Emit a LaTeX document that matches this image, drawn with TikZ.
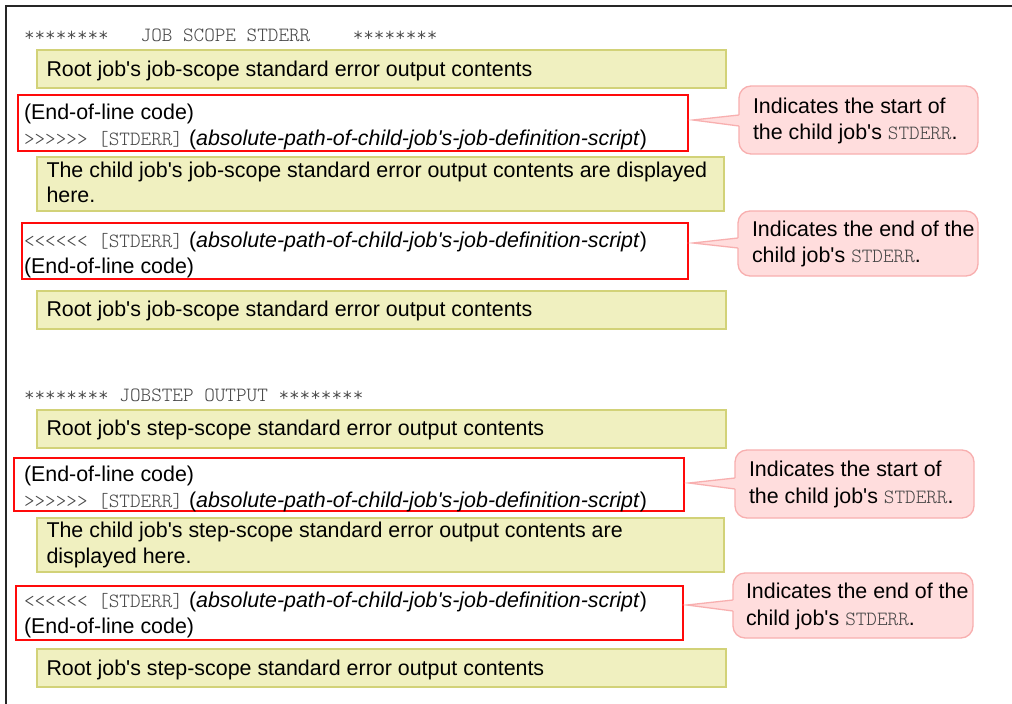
\documentclass[tikz,border=0pt]{standalone}
\usepackage{fontspec}
\setmainfont[Ligatures=TeXOff]{Liberation Sans}
\newfontfamily\monofnt[Ligatures=TeXOff]{lmmonolt10-regular.otf}
\definecolor{yfill}{RGB}{240,240,192}
\definecolor{ybord}{RGB}{210,210,120}
\definecolor{pfill}{RGB}{255,221,221}
\definecolor{pbord}{RGB}{248,175,175}
\definecolor{rbord}{RGB}{255,10,10}
\definecolor{mgray}{RGB}{70,70,70}
\newcommand\cmono[1]{{\monofnt\fontsize{20.2pt}{26pt}\selectfont\color{mgray}#1}}
\newcommand\cpath{(\textit{absolute-path-of-child-job's-job-definition-script})}
\begin{document}
\begin{tikzpicture}[x=1pt,y=-1pt,
  ybox/.style={draw=ybord, fill=yfill, line width=1.5pt, rectangle, inner sep=0pt, outer sep=0pt, anchor=north west},
  rbox/.style={draw=rbord, fill=white, line width=1.8pt, rectangle, inner sep=0pt, outer sep=0pt, anchor=north west},
  cbox/.style={draw=pbord, fill=pfill, line width=1.3pt, rectangle, rounded corners=12pt, inner sep=0pt, outer sep=0pt, anchor=north west},
  wedgefill/.style={fill=pfill},
  wedgeline/.style={draw=pbord, line width=1.3pt, line join=miter},
  txt/.style={anchor=base west, inner sep=0pt, outer sep=0pt, font=\fontsize{21.4pt}{26pt}\selectfont},
  hdr/.style={anchor=base west, inner sep=0pt, outer sep=0pt, font=\monofnt\fontsize{20.2pt}{26pt}\selectfont, text=mgray},
  frame/.style={draw=black!85, line width=2.5pt}
]
\useasboundingbox (0,0) rectangle (1012,704);
\fill[white] (0,0) rectangle (1012,704);
% outer frame
\draw[frame] (6,710) -- (6,6) -- (1020,6);

% headers
\node[hdr] (h1) at (24,41) {********~~~JOB SCOPE STDERR~~~~********};
\node[hdr] (h2) at (24,401.5) {******** JOBSTEP OUTPUT ********};

% yellow boxes
\node[ybox, minimum width=689pt, minimum height=38pt] (y1) at (37,50) {};
\node[ybox, minimum width=687pt, minimum height=54pt] (y2) at (37,157) {};
\node[ybox, minimum width=689pt, minimum height=38pt] (y3) at (37,291) {};
\node[ybox, minimum width=689pt, minimum height=38pt] (y4) at (37,410) {};
\node[ybox, minimum width=687pt, minimum height=54pt] (y5) at (37,518) {};
\node[ybox, minimum width=689pt, minimum height=38pt] (y6) at (37,649) {};

% red boxes
\node[rbox, minimum width=670pt, minimum height=56pt] (r1) at (18,95) {};
\node[rbox, minimum width=666pt, minimum height=56pt] (r2) at (22,223) {};
\node[rbox, minimum width=670pt, minimum height=53pt] (r3) at (14,458) {};
\node[rbox, minimum width=667pt, minimum height=54pt] (r4) at (16,586) {};

% yellow texts
\node[txt] (y1t) at (46.5,76) {Root job's job-scope standard error output contents};
\node[txt] (y2t) at (46.5,177) {The child job's job-scope standard error output contents are displayed};
\node[txt] (y2u) at (46.5,202.5) {here.};
\node[txt] (y3t) at (46.5,316) {Root job's job-scope standard error output contents};
\node[txt] (y4t) at (46.5,435) {Root job's step-scope standard error output contents};
\node[txt] (y5t) at (46.5,537) {The child job's step-scope standard error output contents are};
\node[txt] (y5u) at (46.5,563) {displayed here.};
\node[txt] (y6t) at (46.5,675) {Root job's step-scope standard error output contents};

% red texts
\node[txt] (r1t) at (24,119) {(End-of-line code)};
\node[txt] (r1u) at (24,145) {\cmono{>>>>>> [STDERR]} \cpath};
\node[txt] (r2t) at (24,247) {\cmono{<<<<<< [STDERR]} \cpath};
\node[txt] (r2u) at (24,273) {(End-of-line code)};
\node[txt] (r3t) at (24,481.5) {(End-of-line code)};
\node[txt] (r3u) at (24,507) {\cmono{>>>>>> [STDERR]} \cpath};
\node[txt] (r4t) at (24,607) {\cmono{<<<<<< [STDERR]} \cpath};
\node[txt] (r4u) at (24,633) {(End-of-line code)};

% callouts
\node[cbox, minimum width=239pt, minimum height=68pt] (c1) at (739,86) {};
\node[cbox, minimum width=240pt, minimum height=65pt] (c2) at (738,211) {};
\node[cbox, minimum width=239pt, minimum height=68pt] (c3) at (735,450) {};
\node[cbox, minimum width=240pt, minimum height=65pt] (c4) at (733,573) {};

\coordinate (c1tip) at (693,120);
\coordinate (c2tip) at (693,243);
\coordinate (c3tip) at (689,483);
\coordinate (c4tip) at (687,605);

\fill[wedgefill] (c1tip) -- ([xshift=2pt]c1.west |- 0,115) -- ([xshift=2pt]c1.west |- 0,126) -- cycle;
\draw[wedgeline] (c1.west |- 0,115) -- (c1tip) -- (c1.west |- 0,126);
\fill[wedgefill] (c2tip) -- ([xshift=2pt]c2.west |- 0,238) -- ([xshift=2pt]c2.west |- 0,248) -- cycle;
\draw[wedgeline] (c2.west |- 0,238) -- (c2tip) -- (c2.west |- 0,248);
\fill[wedgefill] (c3tip) -- ([xshift=2pt]c3.west |- 0,478) -- ([xshift=2pt]c3.west |- 0,489) -- cycle;
\draw[wedgeline] (c3.west |- 0,478) -- (c3tip) -- (c3.west |- 0,489);
\fill[wedgefill] (c4tip) -- ([xshift=2pt]c4.west |- 0,600) -- ([xshift=2pt]c4.west |- 0,611) -- cycle;
\draw[wedgeline] (c4.west |- 0,600) -- (c4tip) -- (c4.west |- 0,611);

\node[txt] (c1t) at (753,113.5) {Indicates the start of};
\node[txt] (c1u) at (753,139.5) {the child job's \cmono{STDERR}.};
\node[txt] (c2t) at (752,236) {Indicates the end of the};
\node[txt] (c2u) at (752,262.5) {child job's \cmono{STDERR}.};
\node[txt] (c3t) at (749,476.5) {Indicates the start of};
\node[txt] (c3u) at (749,503) {the child job's \cmono{STDERR}.};
\node[txt] (c4t) at (746,598.3) {Indicates the end of the};
\node[txt] (c4u) at (746,625) {child job's \cmono{STDERR}.};
\end{tikzpicture}
\end{document}
